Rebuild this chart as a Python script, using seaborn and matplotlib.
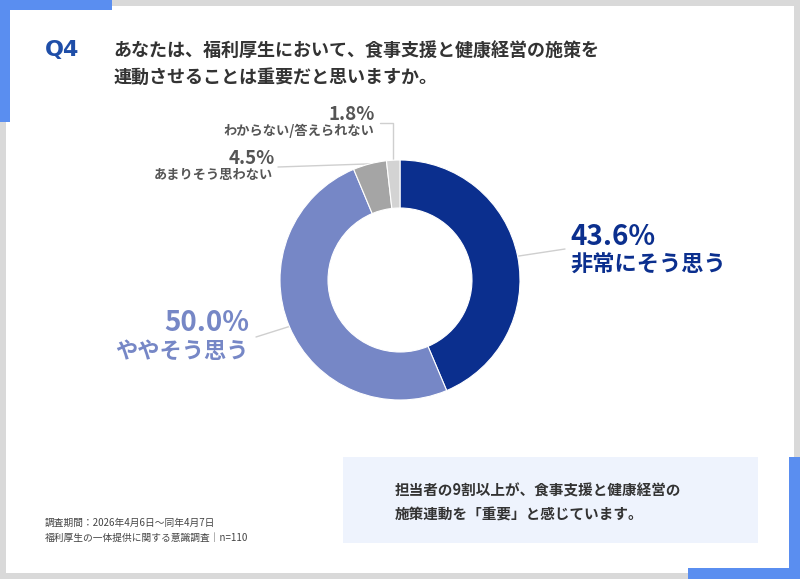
import numpy as np
import matplotlib
matplotlib.use("Agg")
import matplotlib.pyplot as plt
import seaborn as sns
from matplotlib.patches import Rectangle

# ---- data ----
categories = ["非常にそう思う", "ややそう思う", "あまりそう思わない", "わからない/答えられない"]
values = [43.6, 50.0, 4.5, 1.8]
value_labels = ["43.6%", "50.0%", "4.5%", "1.8%"]
colors = ["#0b2f8e", "#7687c6", "#a5a5a5", "#d3d3d3"]
label_colors = ["#0b2f8e", "#7687c6", "#555555", "#555555"]

title_q = "Q4"
title_lines = ["あなたは、福利厚生において、食事支援と健康経営の施策を",
               "連動させることは重要だと思いますか。"]
callout_lines = ["担当者の9割以上が、食事支援と健康経営の",
                 "施策連動を「重要」と感じています。"]
foot_lines = ["調査期間：2026年4月6日～同年4月7日",
              "福利厚生の一体提供に関する意識調査｜n=110"]

sns.set_theme(style="white")
plt.rcParams['font.family'] = ['Noto Sans CJK JP', 'DejaVu Sans']

W, H = 800, 579
fig = plt.figure(figsize=(8, 5.79), dpi=100)
fig.patch.set_facecolor("#d9d9d9")
ax = fig.add_axes([0, 0, 1, 1])

def Y(y):  # pixel-from-top to data
    return H - y

# card + accents
ax.add_patch(Rectangle((6, Y(573)), 788, 567, facecolor="white", edgecolor="none", zorder=0))
blue = "#5a8ef0"
ax.add_patch(Rectangle((0, Y(10)), 112, 10, facecolor=blue, edgecolor="none", zorder=1))
ax.add_patch(Rectangle((0, Y(122)), 10, 122, facecolor=blue, edgecolor="none", zorder=1))
ax.add_patch(Rectangle((688, 0), 112, 11, facecolor=blue, edgecolor="none", zorder=1))
ax.add_patch(Rectangle((789, 0), 11, H - 457, facecolor=blue, edgecolor="none", zorder=1))

# donut
cx, cy, R, width = 400, Y(280), 120, 48
wedges, _ = ax.pie(values, colors=colors, startangle=90, counterclock=False,
                   center=(cx, cy), radius=R,
                   wedgeprops=dict(width=width, edgecolor="white", linewidth=0.8))
for w in wedges:
    w.set_zorder(3)

ax.set_xlim(0, W)
ax.set_ylim(0, H)
ax.set_aspect("equal")
ax.axis("off")

def edge_point(i):
    w = wedges[i]
    ang = np.deg2rad((w.theta1 + w.theta2) / 2)
    return cx + R * np.cos(ang), cy + R * np.sin(ang)

lc = "#cfcfcf"
# 43.6%
x0, y0 = edge_point(0)
ax.plot([x0, 565], [y0, Y(249)], color=lc, lw=1, zorder=2)
ax.text(570, Y(237), value_labels[0], color=label_colors[0], fontsize=20, fontweight="bold",
        ha="left", va="center")
ax.text(570, Y(265), categories[0], color=label_colors[0], fontsize=16, fontweight="bold",
        ha="left", va="center")
# 50.0%
x0, y0 = edge_point(1)
ax.plot([x0, 256], [y0, Y(337)], color=lc, lw=1, zorder=2)
ax.text(249, Y(323), value_labels[1], color=label_colors[1], fontsize=20, fontweight="bold",
        ha="right", va="center")
ax.text(249, Y(351), categories[1], color=label_colors[1], fontsize=16, fontweight="bold",
        ha="right", va="center")
# 4.5%
x0, y0 = edge_point(2)
ax.plot([x0, 278], [y0, Y(167)], color=lc, lw=1, zorder=2)
ax.text(275, Y(159), value_labels[2], color=label_colors[2], fontsize=13.5, fontweight="bold",
        ha="right", va="center")
ax.text(273, Y(175), categories[2], color=label_colors[2], fontsize=9.5, fontweight="bold",
        ha="right", va="center")
# 1.8%
x0, y0 = edge_point(3)
ax.plot([380, x0, x0], [Y(123), Y(123), y0], color=lc, lw=1, zorder=2)
ax.text(375, Y(114), value_labels[3], color=label_colors[3], fontsize=13.5, fontweight="bold",
        ha="right", va="center")
ax.text(374, Y(131), categories[3], color=label_colors[3], fontsize=9.5, fontweight="bold",
        ha="right", va="center")

# title
ax.text(45, Y(50), title_q, color="#1f4ea8", fontsize=16, fontweight="bold",
        ha="left", va="center", family=["DejaVu Sans"])
ax.text(113, Y(50), title_lines[0], color="#333333", fontsize=13, fontweight="bold",
        ha="left", va="center")
ax.text(113, Y(77), title_lines[1], color="#333333", fontsize=13, fontweight="bold",
        ha="left", va="center")

# callout box
ax.add_patch(Rectangle((343, Y(543)), 415, 86, facecolor="#eef3fd", edgecolor="none", zorder=1))
ax.text(395, Y(490), callout_lines[0], color="#333333", fontsize=10.5, fontweight="bold",
        ha="left", va="center", zorder=2)
ax.text(395, Y(515), callout_lines[1], color="#333333", fontsize=10.5, fontweight="bold",
        ha="left", va="center", zorder=2)

# footnote
ax.text(45, Y(523), foot_lines[0], color="#444444", fontsize=7, ha="left", va="center")
ax.text(45, Y(538), foot_lines[1], color="#444444", fontsize=7, ha="left", va="center")

fig.savefig("out.png", dpi=100, facecolor=fig.get_facecolor())
